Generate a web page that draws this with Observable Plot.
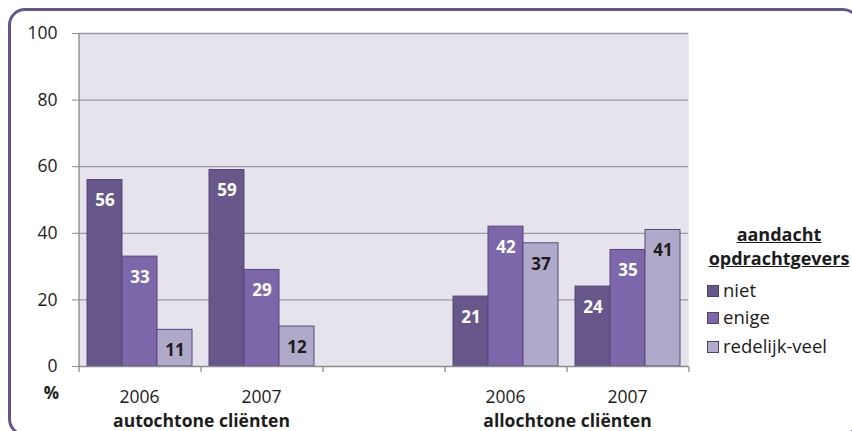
<!DOCTYPE html>
<html>
<head>
<meta charset="utf-8">
<script src="https://cdn.jsdelivr.net/npm/d3@7"></script>
<script src="https://cdn.jsdelivr.net/npm/@observablehq/plot@0.6"></script>
<style>
  html, body { margin: 0; padding: 0; background: #ffffff; }
  #wrap { position: relative; width: 852px; height: 431px; overflow: hidden; font-family: "Open Sans", sans-serif; color: #1c1c1c; }
  #border { position: absolute; left: 8px; top: 8px; width: 852px; height: 428px; box-sizing: border-box;
            border: 3px solid #64558c; border-radius: 17px; }
  #chart { position: absolute; left: 0; top: 0; }
  #legend { position: absolute; left: 0; top: 0; width: 852px; height: 431px; pointer-events: none; }
  .lt { position: absolute; left: 700px; width: 158px; text-align: center; font-weight: bold; font-size: 18px;
        text-decoration: underline; line-height: 24px; }
  .li { position: absolute; left: 707px; height: 22px; line-height: 22px; font-size: 18.5px; white-space: nowrap; }
  .sw { display: inline-block; width: 12px; height: 12px; border: 1px solid #4f4175; box-sizing: border-box;
        margin-right: 4px; vertical-align: 0px; }
  g[aria-label^="y-axis"] line, g[aria-label="y-axis tick"] path { stroke: #8c8c8c; }
  g[aria-label^="fx-axis"] text, g[aria-label^="y-axis"] text { font-size: 17.5px; }
</style>
</head>
<body>
<div id="wrap">
  <div id="chart"></div>
  <div id="border"></div>
  <div id="legend"></div>
</div>
<script>
// ---- data ----
const slots = ["a2006", "a2007", "gap", "b2006", "b2007"];
const slotYears = ["2006", "2007", "", "2006", "2007"];
const groupLabels = ["autochtone cliënten", "allochtone cliënten"];
const groupLabelSlots = ["a2007", "b2007"];
const series = ["niet", "enige", "redelijk-veel"];
const colors = ["#67578b", "#7b67a9", "#b1a9ca"];
const autochtone2006 = [56, 33, 11];
const autochtone2007 = [59, 29, 12];
const allochtone2006 = [21, 42, 37];
const allochtone2007 = [24, 35, 41];
const yTicks = [0, 20, 40, 60, 80, 100];
const legendTitle = ["aandacht", "opdrachtgevers"];
const yUnit = "%";

// ---- tables built from the arrays ----
const valuesBySlot = { a2006: autochtone2006, a2007: autochtone2007, b2006: allochtone2006, b2007: allochtone2007 };
const rows = [];
for (const s of slots) {
  const v = valuesBySlot[s];
  if (!v) continue;
  series.forEach((k, i) => rows.push({ slot: s, series: k, value: v[i] }));
}
const gridRows = slots.flatMap(s => yTicks.slice(1).map(t => ({ slot: s, t })));
const edgeRows = slots.map(s => ({ slot: s }));

// ---- layout ----
const W = 852, H = 431, mL = 76, mR = 162, mT = 33, mB = 65;
const po = 0.23;
const facetW = (W - mL - mR) / slots.length;
const step = facetW / (series.length + 2 * po);
const toEdge = step * (po + 0.5);
const axisGray = "#8c8c8c";
const ink = "#1c1c1c";

const chart = Plot.plot({
  width: W, height: H,
  marginLeft: mL, marginRight: mR, marginTop: mT, marginBottom: mB,
  style: { fontFamily: "'Open Sans', sans-serif", fontSize: "18px", color: ink, background: "transparent", overflow: "visible" },
  fx: { domain: slots, padding: 0, axis: "bottom", tickSize: 0, tickPadding: 24,
        tickFormat: s => slotYears[slots.indexOf(s)], label: null },
  x: { domain: series, paddingInner: 0, paddingOuter: po, axis: null },
  y: { domain: [0, 100], ticks: yTicks, tickSize: 6, tickPadding: 15, label: null },
  color: { domain: series, range: colors },
  marks: [
    Plot.frame({ fill: "#e6e3ec", stroke: "#e6e3ec", strokeWidth: 0.6 }),
    Plot.ruleY(gridRows, { fx: "slot", y: "t", stroke: "#9b99a2", strokeWidth: 1.3 }),
    Plot.barY(rows, { fx: "slot", x: "series", y: "value", fill: "series", stroke: "#574879", strokeWidth: 1 }),
    Plot.ruleY([0], { stroke: axisGray, strokeWidth: 1.3 }),
    // tick marks at the slot boundaries below the axis
    Plot.ruleX(edgeRows, { fx: "slot", x: () => series[0], y1: () => 0, y2: () => 0, insetBottom: -6, dx: -toEdge, stroke: axisGray, strokeWidth: 1.3 }),
    Plot.ruleX(edgeRows.slice(-1), { fx: "slot", x: () => series[series.length - 1], y1: () => 0, y2: () => 0, insetBottom: -6, dx: toEdge, stroke: axisGray, strokeWidth: 1.3 }),
    // left axis line
    Plot.ruleX(edgeRows.slice(0, 1), { fx: "slot", x: () => series[0], y1: () => 0, y2: () => 100, dx: -toEdge, stroke: axisGray, strokeWidth: 1.3 }),
    // value labels
    Plot.text(rows.filter(d => d.series !== series[2]), { fx: "slot", x: "series", y: "value", text: d => String(d.value),
      dy: 21, lineAnchor: "middle", fill: "white", fontWeight: "bold", fontSize: 17 }),
    Plot.text(rows.filter(d => d.series === series[2]), { fx: "slot", x: "series", y: "value", text: d => String(d.value),
      dy: 21, lineAnchor: "middle", fill: ink, fontWeight: "bold", fontSize: 17 }),
    // group labels, centred on the boundary between the two years
    Plot.text(groupLabels, { fx: (d, i) => groupLabelSlots[i], frameAnchor: "bottom-left", lineAnchor: "middle", text: d => d,
      textAnchor: "middle", dx: 1, dy: 55, fontWeight: "bold", fontSize: 17.5, fill: ink }),
    // unit label
    Plot.text([yUnit], { fx: () => slots[0], frameAnchor: "bottom-left", lineAnchor: "middle", text: d => d, textAnchor: "middle",
      dx: -27, dy: 27, fontWeight: "bold", fontSize: 17, fill: ink })
  ]
});
document.getElementById("chart").appendChild(chart);

// ---- legend ----
const legend = document.getElementById("legend");
legendTitle.forEach((t, i) => {
  const d = document.createElement("div");
  d.className = "lt";
  d.style.top = (222 + i * 24) + "px";
  d.textContent = t;
  legend.appendChild(d);
});
const rowTops = [279, 306, 335];
series.forEach((s, i) => {
  const d = document.createElement("div");
  d.className = "li";
  d.style.top = rowTops[i] + "px";
  const sw = document.createElement("span");
  sw.className = "sw";
  sw.style.background = colors[i];
  d.appendChild(sw);
  d.appendChild(document.createTextNode(s));
  legend.appendChild(d);
});
</script>
</body>
</html>
